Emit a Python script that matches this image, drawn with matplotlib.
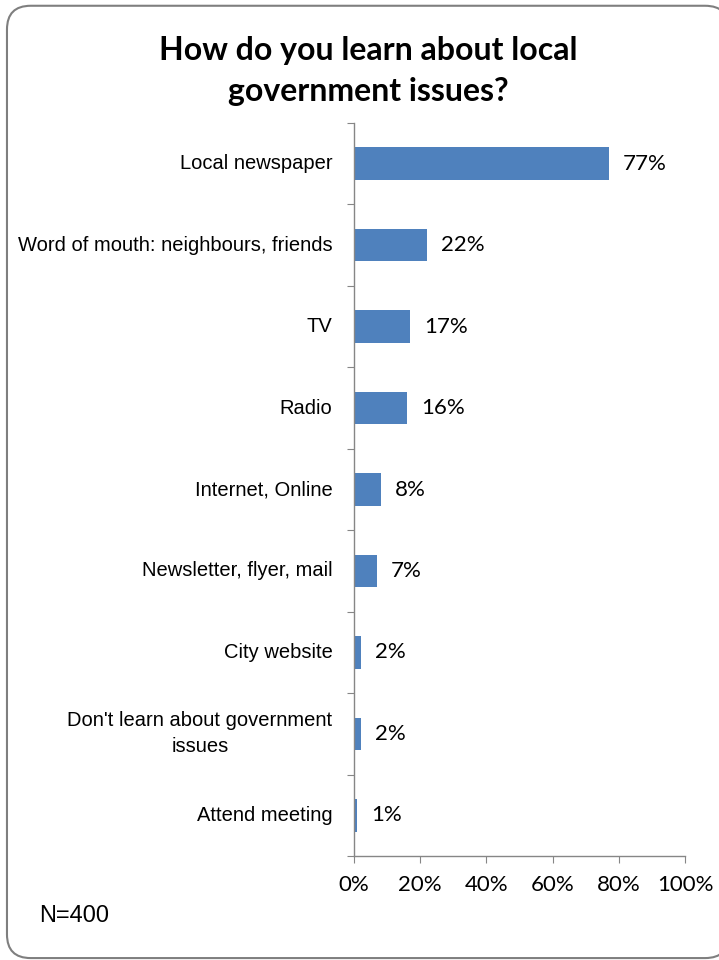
import matplotlib.pyplot as plt
from matplotlib.patches import FancyBboxPatch

categories = ["Local newspaper", "Word of mouth: neighbours, friends", "TV", "Radio",
              "Internet, Online", "Newsletter, flyer, mail", "City website",
              "Don't learn about government\nissues", "Attend meeting"]
values = [77, 22, 17, 16, 8, 7, 2, 2, 1]
x_ticks = [0, 20, 40, 60, 80, 100]

bar_color = "#4F81BD"
axis_color = "#868686"

label_font = ["Liberation Sans", "DejaVu Sans"]
body_font = ["Lato", "DejaVu Sans"]


def main():
    fig = plt.figure(figsize=(7.19, 9.60), dpi=100)
    # rounded frame, right side just runs off the picture like the original
    border = FancyBboxPatch((0.0097, 0.002), 1.004, 0.992, boxstyle="round,pad=0,rounding_size=0.033",
                            transform=fig.transFigure, facecolor="white", edgecolor="#7f7f7f",
                            linewidth=1.5, mutation_aspect=719 / 960, zorder=-5)
    fig.patches.append(border)

    ax = fig.add_axes([0.4924, 0.1083, 0.4603, 0.7636])
    ax.set_zorder(2)
    ax.patch.set_alpha(0)
    n = len(categories)
    y = list(range(n))
    ax.barh(y, values, height=0.4, color=bar_color)
    ax.set_ylim(n - 0.5, -0.5)
    ax.set_xlim(0, 100)

    for side in ["top", "right"]:
        ax.spines[side].set_visible(False)
    for side in ["left", "bottom"]:
        ax.spines[side].set_color(axis_color)
        ax.spines[side].set_linewidth(1)

    # category labels as text, ticks at the boundaries between categories
    ax.set_yticks([i - 0.5 for i in range(n + 1)])
    ax.set_yticklabels([])
    ax.tick_params(axis="y", length=5, color=axis_color, direction="out")
    for i, cat in enumerate(categories):
        ax.text(-0.065, i, cat, transform=ax.get_yaxis_transform(), ha="right", va="center",
                fontsize=14.5, family=label_font, multialignment="center", linespacing=1.45)

    ax.set_xticks(x_ticks)
    ax.set_xticklabels([str(t) + "%" for t in x_ticks], fontsize=16, family=body_font)
    ax.tick_params(axis="x", length=5, color=axis_color, direction="out", pad=9)

    for i, v in enumerate(values):
        ax.text(v + 4.2, i, str(v) + "%", ha="left", va="center", fontsize=16, family=body_font)

    fig.text(0.512, 0.963, "How do you learn about local\ngovernment issues?", ha="center", va="top",
             fontsize=23, fontweight="bold", family=body_font, linespacing=1.5)
    fig.text(0.054, 0.046, "N=400", ha="left", va="center", fontsize=17, family=label_font)

    fig.savefig("out.png", dpi=100)


if __name__ == "__main__":
    main()
